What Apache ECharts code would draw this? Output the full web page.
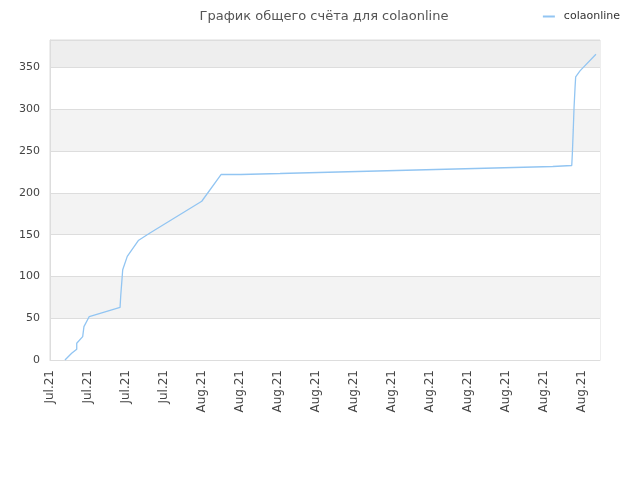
<!DOCTYPE html>
<html>
<head>
<meta charset="utf-8">
<script src="https://cdn.jsdelivr.net/npm/echarts@6/dist/echarts.min.js"></script>
<style>html,body{margin:0;padding:0;background:#fff}#c{width:640px;height:480px}</style>
</head>
<body>
<div id="c"></div>
<script>
// x in days since the first tick (one tick label every 3 days)
const tickLabels = ['Jul.21','Jul.21','Jul.21','Jul.21','Aug.21','Aug.21','Aug.21','Aug.21','Aug.21','Aug.21','Aug.21','Aug.21','Aug.21','Aug.21','Aug.21'];
const days =   [1.18, 1.71, 2.11, 2.11, 2.58, 2.68, 3.10, 5.53, 5.58, 5.74, 6.10, 6.97, 7.89, 11.98, 13.5, 15.06, 15.06, 18.16, 18.16, 21.21, 21.21, 24.29, 24.29, 27.37, 27.37, 30.45, 30.45, 33.55, 33.55, 36.63, 36.63, 39.69, 39.69, 41.19, 41.24, 41.31, 41.37, 41.45, 41.50, 41.84, 43.1];
const scores = [0,    8,    13,   20,   28,   40,   52,   63,   76,   108,  124,  143,  152,  190,   222,  222,   223.2, 223.2, 224.4, 224.4, 225.6, 225.6, 226.8, 226.8, 228,   228,   229.2, 229.2, 230.4, 230.4, 231.6, 231.6, 232.8, 232.8, 248,   276,   302,   326,   339,   346,   366];
const seriesName = 'colaonline';
const titleText = 'График общего счёта для colaonline';

const points = days.map((d, i) => [d, scores[i]]);
const chart = echarts.init(document.getElementById('c'));
chart.setOption({
  animation: false,
  backgroundColor: '#fff',
  title: {
    text: titleText, left: 319, top: 5, textAlign: 'center',
    textStyle: {fontFamily: 'DejaVu Sans', fontSize: 13, fontWeight: 'normal', color: '#555'}
  },
  legend: {
    data: [seriesName], right: 15, top: 6, itemWidth: 12, itemHeight: 2, itemGap: 6,
    icon: 'rect',
    textStyle: {fontFamily: 'DejaVu Sans', fontSize: 11, color: '#333', padding: [0, 0, 0, 4]}
  },
  grid: {left: 50, right: 40, top: 40, bottom: 120, show: true, borderColor: '#dddddd', borderWidth: 1, backgroundColor: 'transparent'},
  xAxis: {
    type: 'value', min: 0, max: 43.42, interval: 3,
    axisLine: {show: true, lineStyle: {color: '#dddddd'}},
    axisTick: {show: false},
    splitLine: {show: false},
    axisLabel: {
      rotate: 90, showMaxLabel: false, margin: 10,
      fontFamily: 'DejaVu Sans', fontSize: 12, color: '#444',
      formatter: v => tickLabels[Math.round(v / 3)] || ''
    }
  },
  yAxis: {
    type: 'value', min: 0, max: 383, interval: 50,
    axisLine: {show: true, lineStyle: {color: '#dddddd'}},
    axisTick: {show: false},
    splitLine: {show: true, lineStyle: {color: '#dddddd', width: 1}},
    splitArea: {show: true, areaStyle: {color: ['#ffffff','#f3f3f3','#ffffff','#f3f3f3','#ffffff','#f3f3f3','#ffffff','#eeeeee']}},
    axisLabel: {showMaxLabel: false, margin: 10, fontFamily: 'DejaVu Sans', fontSize: 11, color: '#444'}
  },
  series: [{
    name: seriesName, type: 'line', data: points, showSymbol: false, symbol: 'none',
    lineStyle: {color: '#92c5f2', width: 1.3},
    itemStyle: {color: '#92c5f2'}
  }]
});
</script>
</body>
</html>
